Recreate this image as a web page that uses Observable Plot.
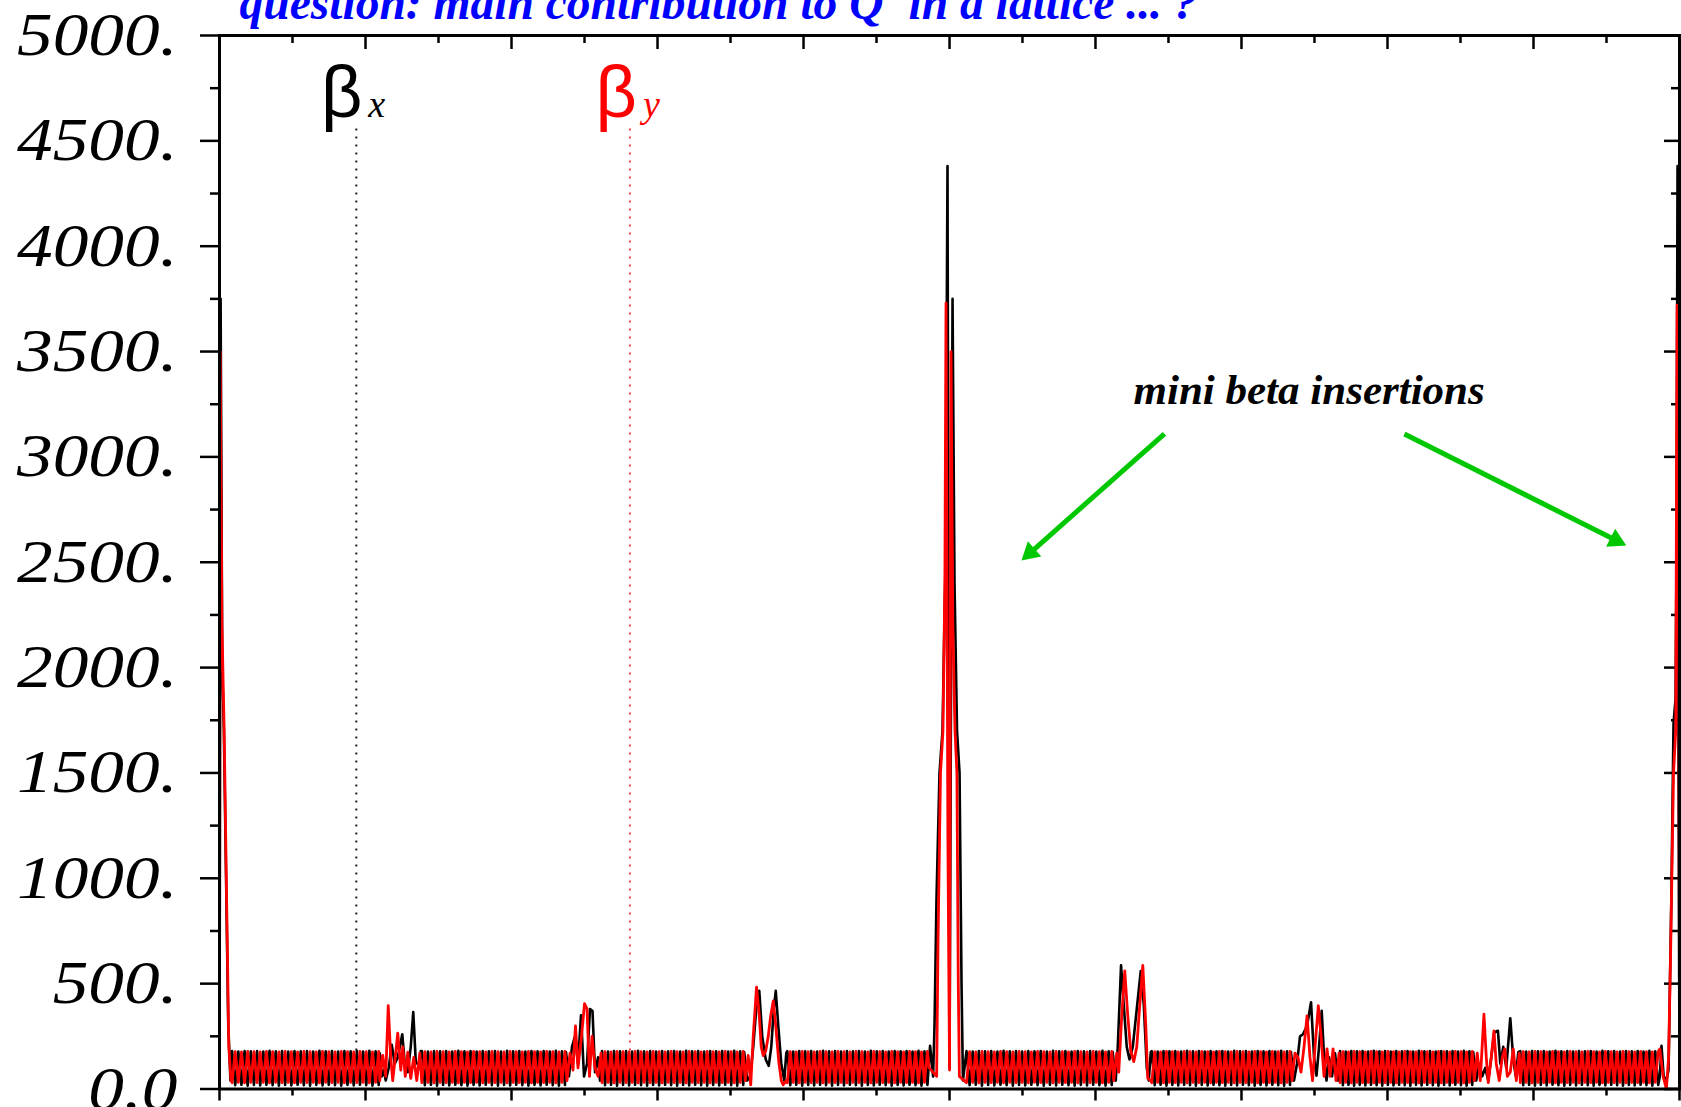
<!DOCTYPE html>
<html>
<head>
<meta charset="utf-8">
<script src="https://cdn.jsdelivr.net/npm/d3@7"></script>
<script src="https://cdn.jsdelivr.net/npm/@observablehq/plot@0.6"></script>
<style>
html,body{margin:0;padding:0;background:#fff;overflow:hidden}
</style>
</head>
<body>
<div id="chart"></div>
<script>
// ---- axes ----
const C = 26.659; // ring length (km)
const xTicks = [0, 2.666, 5.332, 7.998, 10.664, 13.330, 15.995, 18.661, 21.327, 23.993, 26.659];
const xMinorTicks = [1.333, 3.999, 6.665, 9.331, 11.997, 14.662, 17.328, 19.994, 22.660, 25.326];
const yTicks = [0, 500, 1000, 1500, 2000, 2500, 3000, 3500, 4000, 4500, 5000];
const yTickLabels = ["0.0", "500.", "1000.", "1500.", "2000.", "2500.", "3000.", "3500.", "4000.", "4500.", "5000."];
const yMinorTicks = [250, 750, 1250, 1750, 2250, 2750, 3250, 3750, 4250, 4750];

// ---- arcs (regular FODO cells, values at successive quadrupoles) ----
const arcStart = [0.23, 3.694, 6.985, 10.368, 13.640, 17.023, 20.461, 23.752];
const arcEnd   = [2.907, 6.308, 9.563, 12.927, 16.292, 19.547, 22.874, 26.27];
const fodoBx = [180,18,178,20,180,16,179,19,180,17,178,20,
                181,18,179,16,180,19,178,17,180,20,179,18,
                180,16,178,19,181,17,179,20,180,18,178,16,
                180,19,179,17,180,20,178,18,181,16,179,19];
const fodoBy = [30,177,32,176,29,178,31,177,30,176,32,178,
                29,177,31,176,30,178,32,177,29,176,31,178,
                30,177,32,176,29,178,31,177,30,176,32,178,
                29,177,31,176,30,178,32,177,29,176,31,178];

// ---- insertions [s (km), beta (m)] ----
const bxIP1L = [[0,5],[0.02,3750],[0.05,2000],[0.08,1700],[0.12,1000],[0.16,300],[0.20,40]];
const byIP1L = [[0,0],[0.012,3500],[0.045,2200],[0.085,1700],[0.13,900],[0.17,200],[0.21,40]];

const bxIP2 = [[2.926,170],[2.962,60],[2.999,90],[3.035,40],[3.090,100],[3.145,210],[3.200,120],[3.255,150],[3.337,260],[3.383,120],[3.438,80],[3.492,200],[3.538,365],[3.584,130],[3.639,110],[3.675,180]];
const byIP2 = [[2.926,40],[2.980,160],[3.035,60],[3.081,395],[3.127,150],[3.163,40],[3.209,150],[3.255,265],[3.310,90],[3.346,200],[3.392,60],[3.438,175],[3.492,50],[3.547,150],[3.602,40],[3.657,170]];

const bxIP3 = [[6.327,175],[6.381,60],[6.436,200],[6.491,250],[6.546,120],[6.601,350],[6.656,60],[6.711,120],[6.765,380],[6.811,370],[6.857,80],[6.912,150],[6.948,40]];
const byIP3 = [[6.345,40],[6.400,170],[6.455,90],[6.500,300],[6.546,100],[6.610,250],[6.665,405],[6.711,380],[6.756,60],[6.802,250],[6.857,100],[6.912,60],[6.967,170]];

const bxIP4 = [[9.581,175],[9.636,40],[9.691,60],[9.746,200],[9.801,380],[9.856,466],[9.910,250],[9.974,140],[10.029,110],[10.075,200],[10.121,380],[10.157,466],[10.203,300],[10.258,120],[10.313,40],[10.349,170]];
const byIP4 = [[9.600,40],[9.654,160],[9.700,20],[9.746,250],[9.806,483],[9.856,350],[9.892,200],[9.929,158],[9.974,180],[10.020,250],[10.066,350],[10.112,418],[10.157,300],[10.212,130],[10.258,40],[10.294,20],[10.349,40]];

const bxIP5 = [[12.975,205],[13.03,60],[13.056,300],[13.092,900],[13.147,1500],[13.202,1700],[13.257,2500],[13.293,4380],[13.33,100],[13.385,3750],[13.421,2400],[13.467,1700],[13.513,1500],[13.549,500],[13.575,40]];
const byIP5 = [[12.96,100],[13.095,60],[13.12,700],[13.165,1500],[13.21,1700],[13.245,2400],[13.266,3730],[13.30,1200],[13.33,90],[13.357,3500],[13.39,2200],[13.43,1700],[13.465,1500],[13.49,500],[13.51,60]];

const bxIP6 = [[16.310,175],[16.365,40],[16.402,200],[16.462,587],[16.511,400],[16.566,200],[16.616,140],[16.676,200],[16.749,380],[16.822,560],[16.877,400],[16.932,100],[16.968,40],[17.005,175]];
const byIP6 = [[16.329,40],[16.383,170],[16.420,80],[16.475,350],[16.530,560],[16.584,350],[16.639,180],[16.694,130],[16.749,200],[16.804,400],[16.859,587],[16.914,300],[16.950,50],[17.005,40]];

const bxIP7 = [[19.565,175],[19.620,40],[19.675,120],[19.730,250],[19.784,260],[19.858,300],[19.931,412],[19.986,150],[20.031,63],[20.077,200],[20.126,371],[20.169,150],[20.214,40],[20.260,150],[20.315,60],[20.369,170],[20.424,40]];
const byIP7 = [[19.583,40],[19.638,170],[19.693,150],[19.748,80],[19.803,200],[19.858,347],[19.912,150],[19.958,40],[20.004,200],[20.064,395],[20.114,250],[20.169,60],[20.223,190],[20.278,60],[20.333,190],[20.388,40],[20.443,170]];

const bxIP8 = [[22.893,175],[22.948,40],[23.003,120],[23.057,60],[23.112,100],[23.167,40],[23.222,150],[23.277,270],[23.344,276],[23.387,120],[23.441,200],[23.496,100],[23.569,336],[23.624,140],[23.670,60],[23.716,175]];
const byIP8 = [[22.911,40],[22.966,170],[23.021,40],[23.088,355],[23.131,150],[23.167,30],[23.222,150],[23.271,276],[23.313,120],[23.368,40],[23.423,150],[23.469,190],[23.515,60],[23.569,80],[23.624,190],[23.679,40],[23.734,170]];

const bxIP1R = [[26.30,60],[26.33,205],[26.37,60],[26.42,40],[26.459,90],[26.51,900],[26.55,1735],[26.587,1850],[26.604,2500],[26.623,4380],[26.641,1500],[26.659,100]];
const byIP1R = [[26.30,190],[26.36,60],[26.42,0],[26.46,150],[26.50,700],[26.55,1500],[26.59,1700],[26.615,3720],[26.64,3500],[26.659,150]];

// ---- legend & annotations ----
const legendItems = [
  {s: 2.498, v: 4612, b0: 180, b1: 4570, g: "β", sub: "x"},
  {s: 7.495, v: 4612, b0: 180, b1: 4570, g: "β", sub: "y"}
];
const titleText = ["question: main contribution to Q' in a lattice ... ?"];
const annotations = [{s: 19.896, v: 3252, label: "mini beta insertions"}];
const arrows = [
  {s1: 17.254, b1: 3109, s2: 14.803, b2: 2545, rot: 228.4},
  {s1: 21.636, b1: 3109, s2: 25.497, b2: 2604, rot: 116.6}
];

// ---- assemble series ----
function series(ins, fodo) {
  const out = [];
  for (let k = 0; k < ins.length; k++) {
    for (const [s, v] of ins[k]) out.push({s, v});
    if (k < arcStart.length) {
      const n = fodo.length;
      for (let j = 0; j < n; j++) out.push({s: arcStart[k] + j * (arcEnd[k] - arcStart[k]) / (n - 1), v: fodo[j]});
    }
  }
  return out;
}
const betaX = series([bxIP1L, bxIP2, bxIP3, bxIP4, bxIP5, bxIP6, bxIP7, bxIP8, bxIP1R], fodoBx);
const betaY = series([byIP1L, byIP2, byIP3, byIP4, byIP5, byIP6, byIP7, byIP8, byIP1R], fodoBy);

const tickStyle = {strokeWidth: 2.5, stroke: "#000", label: null};
const blank = () => "";

const chart = Plot.plot({
  width: 1681,
  height: 1107,
  marginLeft: 219,
  marginRight: 2,
  marginTop: 35,
  marginBottom: 18.5,
  x: {domain: [0, C]},
  y: {domain: [0, 5000]},
  style: {background: "#fff", color: "#000"},
  marks: [
    Plot.axisY(yMinorTicks, {anchor: "left", tickSize: 9, tickFormat: blank, ...tickStyle}),
    Plot.axisY(yTicks, {anchor: "left", tickSize: 19, tickPadding: 23, tickFormat: d => yTickLabels[yTicks.indexOf(d)],
      fontSize: 61, fontStyle: "italic", fontFamily: "Liberation Serif", fill: "#000", ...tickStyle}),
    Plot.axisY(yTicks, {anchor: "right", tickSize: 16, dx: -16, tickFormat: blank, ...tickStyle}),
    Plot.axisY(yMinorTicks, {anchor: "right", tickSize: 9, dx: -9, tickFormat: blank, ...tickStyle}),
    Plot.axisX(xTicks, {anchor: "top", tickSize: 13, dy: 13, tickFormat: blank, ...tickStyle}),
    Plot.axisX(xMinorTicks, {anchor: "top", tickSize: 7, dy: 7, tickFormat: blank, ...tickStyle}),
    Plot.axisX(xTicks, {anchor: "bottom", tickSize: 12, tickFormat: blank, ...tickStyle}),
    Plot.axisX(xMinorTicks, {anchor: "bottom", tickSize: 7, tickFormat: blank, ...tickStyle}),
    Plot.ruleX([legendItems[0]], {x: "s", y1: "b0", y2: "b1", stroke: "#222", strokeWidth: 2, strokeDasharray: "2,6"}),
    Plot.ruleX([legendItems[1]], {x: "s", y1: "b0", y2: "b1", stroke: "#ff4040", strokeWidth: 2, strokeDasharray: "2,6"}),
    Plot.line(betaX, {x: "s", y: "v", stroke: "#000", strokeWidth: 2.6}),
    Plot.line(betaY, {x: "s", y: "v", stroke: "#ff0000", strokeWidth: 2.8}),
    Plot.frame({stroke: "#000", strokeWidth: 3}),
    Plot.text([legendItems[0]], {x: "s", y: "v", text: "g", textAnchor: "end", lineAnchor: "bottom", dx: 6,
      fill: "#000", fontSize: 72, fontFamily: "Liberation Sans"}),
    Plot.text([legendItems[0]], {x: "s", y: "v", text: "sub", textAnchor: "start", lineAnchor: "bottom", dx: 12,
      fill: "#000", fontSize: 38, fontStyle: "italic", fontFamily: "Liberation Serif"}),
    Plot.text([legendItems[1]], {x: "s", y: "v", text: "g", textAnchor: "end", lineAnchor: "bottom", dx: 7,
      fill: "#ff0000", fontSize: 72, fontFamily: "Liberation Sans"}),
    Plot.text([legendItems[1]], {x: "s", y: "v", text: "sub", textAnchor: "start", lineAnchor: "bottom", dx: 13,
      fill: "#ff0000", fontSize: 38, fontStyle: "italic", fontFamily: "Liberation Serif"}),
    Plot.text(titleText, {frameAnchor: "top-left", text: d => d, dx: 20, dy: -17, textAnchor: "start", lineAnchor: "bottom",
      fill: "#0000ff", fontSize: 47.5, fontWeight: "bold", fontStyle: "italic", fontFamily: "Liberation Serif"}),
    Plot.text(annotations, {x: "s", y: "v", text: "label", textAnchor: "middle", lineAnchor: "bottom",
      fill: "#000", fontSize: 43, fontWeight: "bold", fontStyle: "italic", fontFamily: "Liberation Serif"}),
    Plot.link(arrows, {x1: "s1", y1: "b1", x2: "s2", y2: "b2", stroke: "#00c800", strokeWidth: 5}),
    Plot.dot(arrows, {x: "s2", y: "b2", symbol: "triangle", r: 7.5, fill: "#00c800", stroke: "none", rotate: "rot"})
  ]
});

// stretch the wide italic tick numerals horizontally
chart.querySelectorAll("text").forEach(t => {
  if (yTickLabels.includes(t.textContent)) {
    const tr = t.getAttribute("transform");
    if (tr) t.setAttribute("transform", tr + " scale(1.17,1)");
    else {
      const x = +t.getAttribute("x") || 0, y = +t.getAttribute("y") || 0;
      t.setAttribute("transform", `translate(${x},${y}) scale(1.17,1) translate(${-x},${-y})`);
    }
  }
});
document.getElementById("chart").appendChild(chart);
</script>
</body>
</html>
